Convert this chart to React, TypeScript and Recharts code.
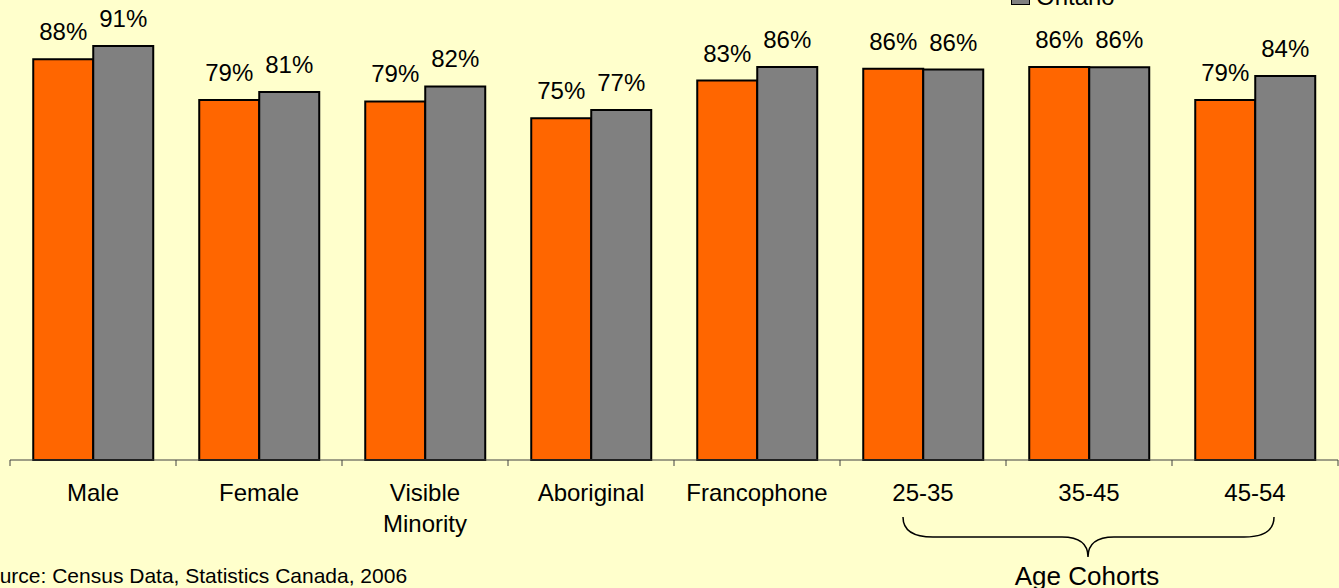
import React from "react"
import { BarChart, Bar, XAxis, YAxis, LabelList, Legend } from "recharts"

const categories = ["Male", "Female", "Visible\nMinority", "Aboriginal", "Francophone", "25-35", "35-45", "45-54"]
const regionValues = [88.1, 79.1, 78.8, 75.1, 83.4, 86.0, 86.4, 79.1]
const ontarioValues = [91.0, 80.9, 82.1, 76.9, 86.4, 85.8, 86.3, 84.4]

const data = categories.map((c, i) => ({
  category: c,
  region: regionValues[i],
  ontario: ontarioValues[i],
}))

const FONT = "Arial, 'Liberation Sans', sans-serif"
const LEGEND_H = 24

const CategoryTick = ({ x, y, payload, index, visibleTicksCount }: any) => {
  const half = payload.offset || 83
  const lines = String(payload.value).split("\n")
  const axisY = y - 8
  return (
    <g>
      <line x1={x - half} x2={x - half} y1={axisY} y2={axisY + 6} stroke="#404040" strokeWidth={1} />
      {index === visibleTicksCount - 1 && (
        <line x1={x + half} x2={x + half} y1={axisY} y2={axisY + 6} stroke="#404040" strokeWidth={1} />
      )}
      <text x={x} y={axisY + 41} textAnchor="middle" fontSize={24} fontFamily={FONT} fill="#000">
        {lines.map((l, i) => (
          <tspan key={i} x={x} dy={i === 0 ? 0 : 31}>
            {l}
          </tspan>
        ))}
      </text>
    </g>
  )
}

// only the Ontario entry is visible, the other one sits above the frame
const renderLegend = () => (
  <div style={{ display: "flex", alignItems: "flex-end", height: LEGEND_H, fontFamily: FONT, fontSize: 24, lineHeight: "24px" }}>
    <div style={{ width: 17, height: 17, background: "#808080", border: "1px solid #000", marginRight: 6, marginBottom: 4 }} />
    <span style={{ color: "#000" }}>Ontario</span>
  </div>
)

export default function App() {
  return (
    <div style={{ position: "absolute", left: 0, top: 0, width: 1339, height: 588, background: "#FFFFCC", overflow: "hidden" }}>
      <BarChart
        width={1339}
        height={588}
        data={data}
        margin={{ top: 5, right: 1, left: 10, bottom: 28 - LEGEND_H }}
        barCategoryGap="14%"
        barGap={0}
      >
        <XAxis
          dataKey="category"
          height={100}
          interval={0}
          tickLine={false}
          tickSize={6}
          tickMargin={2}
          axisLine={{ stroke: "#404040", strokeWidth: 1 }}
          tick={<CategoryTick />}
        />
        <YAxis hide domain={[0, 100]} />
        <Legend content={renderLegend} wrapperStyle={{ position: "absolute", top: -15, left: 1011, width: 200, height: LEGEND_H }} />
        <Bar dataKey="region" fill="#FF6600" stroke="#000" strokeWidth={2} isAnimationActive={false} legendType="none">
          <LabelList dataKey="region" position="top" offset={19} formatter={(v: any) => `${Math.round(v)}%`} fontSize={24} fontFamily={FONT} fill="#000" />
        </Bar>
        <Bar dataKey="ontario" name="Ontario" fill="#808080" stroke="#000" strokeWidth={2} isAnimationActive={false}>
          <LabelList dataKey="ontario" position="top" offset={19} formatter={(v: any) => `${Math.round(v)}%`} fontSize={24} fontFamily={FONT} fill="#000" />
        </Bar>
      </BarChart>
      <svg width={1339} height={588} style={{ position: "absolute", left: 0, top: 0, pointerEvents: "none" }}>
        <path
          d="M 903 517 Q 903 537 933 537 L 1062 537 Q 1088 537 1088 557 Q 1088 537 1114 537 L 1244 537 Q 1274 537 1274 517"
          fill="none"
          stroke="#000"
          strokeWidth={1.5}
        />
        <text x={1087} y={585} textAnchor="middle" fontSize={26} fontFamily={FONT} fill="#000">
          Age Cohorts
        </text>
        <text x={-26} y={583} fontSize={21} fontFamily={FONT} fill="#000">
          Source: Census Data, Statistics Canada, 2006
        </text>
      </svg>
    </div>
  )
}
